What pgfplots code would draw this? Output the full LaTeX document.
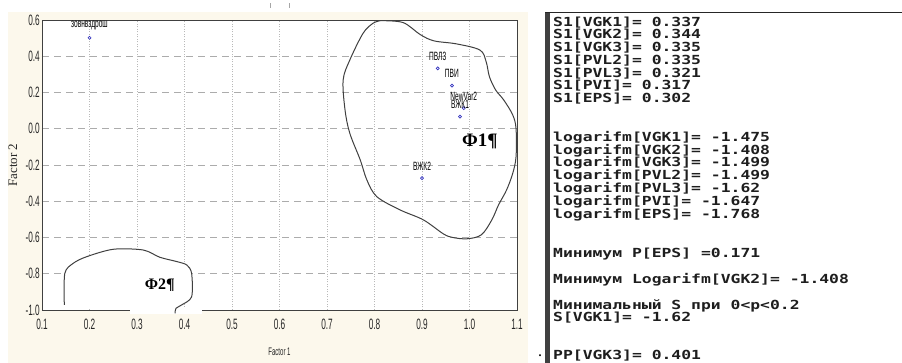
\documentclass[border=0pt]{standalone}
\usepackage{fontspec}
\setmainfont{Liberation Serif}
\newfontfamily\narrow[FakeStretch=0.55]{Liberation Sans}
\newfontfamily\mono[FakeStretch=1.31]{DejaVu Sans Mono}
\usepackage{pgfplots}
\pgfplotsset{compat=1.18}
\definecolor{cream}{HTML}{FCF8EC}
\definecolor{ptblue}{HTML}{3535C0}
\definecolor{axisgray}{HTML}{404040}
\definecolor{consoletext}{HTML}{1E1E1E}
\newcommand{\cons}{\mono\bfseries\fontsize{12.5}{12.5}\selectfont\color{consoletext}}
\begin{document}
\begin{tikzpicture}
\useasboundingbox (0,0) rectangle (902pt,363pt);
\fill[white] (0,0) rectangle (902pt,363pt);
\fill[cream] (8pt,0) rectangle (528pt,351pt);
\draw[gray!70, line width=0.6pt] (270pt,355pt) -- (270pt,360pt);
\draw[gray!70, line width=0.6pt] (289pt,355pt) -- (289pt,360pt);
% console panel
\fill[axisgray] (545pt,0) rectangle (550pt,351pt);
\fill[black!85] (545pt,349.5pt) rectangle (902pt,351.3pt);
\node[anchor=base west, inner sep=0pt, font=\cons] at (553pt,336.7pt) {S1[VGK1]= 0.337};
\node[anchor=base west, inner sep=0pt, font=\cons] at (553pt,324.0pt) {S1[VGK2]= 0.344};
\node[anchor=base west, inner sep=0pt, font=\cons] at (553pt,311.2pt) {S1[VGK3]= 0.335};
\node[anchor=base west, inner sep=0pt, font=\cons] at (553pt,298.5pt) {S1[PVL2]= 0.335};
\node[anchor=base west, inner sep=0pt, font=\cons] at (553pt,285.7pt) {S1[PVL3]= 0.321};
\node[anchor=base west, inner sep=0pt, font=\cons] at (553pt,273.0pt) {S1[PVI]= 0.317};
\node[anchor=base west, inner sep=0pt, font=\cons] at (553pt,260.2pt) {S1[EPS]= 0.302};
\node[anchor=base west, inner sep=0pt, font=\cons] at (553pt,221.7pt) {logarifm[VGK1]= -1.475};
\node[anchor=base west, inner sep=0pt, font=\cons] at (553pt,208.9pt) {logarifm[VGK2]= -1.408};
\node[anchor=base west, inner sep=0pt, font=\cons] at (553pt,196.1pt) {logarifm[VGK3]= -1.499};
\node[anchor=base west, inner sep=0pt, font=\cons] at (553pt,183.3pt) {logarifm[PVL2]= -1.499};
\node[anchor=base west, inner sep=0pt, font=\cons] at (553pt,170.5pt) {logarifm[PVL3]= -1.62};
\node[anchor=base west, inner sep=0pt, font=\cons] at (553pt,157.7pt) {logarifm[PVI]= -1.647};
\node[anchor=base west, inner sep=0pt, font=\cons] at (553pt,144.9pt) {logarifm[EPS]= -1.768};
\node[anchor=base west, inner sep=0pt, font=\cons] at (553pt,105.1pt) {Минимум P[EPS] =0.171};
\node[anchor=base west, inner sep=0pt, font=\cons] at (553pt,79.1pt) {Минимум Logarifm[VGK2]= -1.408};
\node[anchor=base west, inner sep=0pt, font=\cons] at (553pt,53.4pt) {Минимальный S при 0<p<0.2};
\node[anchor=base west, inner sep=0pt, font=\cons] at (553pt,41.1pt) {S[VGK1]= -1.62};
\node[anchor=base west, inner sep=0pt, font=\cons] at (553pt,3.4pt) {PP[VGK3]= 0.401};
\node[anchor=base, inner sep=0pt, font=\bfseries\fontsize{12}{12}\selectfont] at (540pt,6pt) {.};
% chart
\begin{axis}[
  at={(42pt,53pt)}, anchor=south west,
  scale only axis, width=475pt, height=290pt,
  xmin=0.1, xmax=1.1, ymin=-1, ymax=0.6,
  clip=false,
  axis background/.style={fill=white},
  xtick={0.1,0.2,0.3,0.4,0.5,0.6,0.7,0.8,0.9,1.0,1.1},
  xticklabels={0.1,0.2,0.3,0.4,0.5,0.6,0.7,0.8,0.9,1.0,1.1},
  ytick={-1,-0.8,-0.6,-0.4,-0.2,0,0.2,0.4,0.6},
  yticklabels={-1.0,-0.8,-0.6,-0.4,-0.2,0.0,0.2,0.4,0.6},
  grid=major,
  x grid style={dash pattern=on 1pt off 1.5pt, color=gray!55, line width=0.5pt},
  y grid style={dash pattern=on 7pt off 5pt, color=gray!65, line width=0.6pt},
  axis line style={color=axisgray, line width=0.9pt},
  major tick length=0pt,
  tick label style={font=\narrow\fontsize{15}{15}\selectfont, color=black!85},
  xticklabel style={inner sep=0pt, yshift=-9pt},
  yticklabel style={inner sep=0pt, xshift=-2pt},
]
% Phi2 white interior
\addplot[draw=none, fill=white, smooth, tension=0.5] coordinates {
 (0.147,-0.99) (0.147,-0.972) (0.148,-0.798) (0.166,-0.742) (0.194,-0.706)
 (0.25,-0.665) (0.313,-0.669) (0.348,-0.709) (0.384,-0.733) (0.405,-0.752)
 (0.415,-0.798) (0.415,-0.927) (0.394,-0.972) (0.382,-0.99)
} -- cycle;
\fill[white] (axis cs:0.285,-1.022) rectangle (axis cs:0.436,-0.985);
% Phi2 outline
\addplot[color=axisgray, line width=1pt, smooth, tension=0.5] coordinates {
 (0.147,-0.972) (0.148,-0.798) (0.166,-0.742) (0.194,-0.706)
 (0.25,-0.665) (0.313,-0.669) (0.348,-0.709) (0.384,-0.733) (0.405,-0.752)
 (0.415,-0.798) (0.415,-0.927) (0.394,-0.972) (0.382,-0.991) (0.380,-1.018)
};
% Phi1 outline
\addplot[color=axisgray, line width=1pt, smooth, tension=0.55] coordinates {
 (0.812,0.596) (0.860,0.586) (0.896,0.52) (0.925,0.485) (0.973,0.468)
 (1.022,0.434) (1.035,0.37) (1.042,0.287) (1.055,0.214) (1.072,0.159)
 (1.091,0.076) (1.098,0.0) (1.098,-0.154) (1.091,-0.246) (1.078,-0.338)
 (1.061,-0.421) (1.047,-0.503) (1.025,-0.585) (0.995,-0.607) (0.965,-0.6)
 (0.945,-0.58) (0.903,-0.503) (0.854,-0.448) (0.805,-0.375) (0.784,-0.283)
 (0.77,-0.172) (0.748,-0.025) (0.738,0.103) (0.734,0.269) (0.748,0.379)
 (0.776,0.527) (0.797,0.582) (0.812,0.596)
};
% data points
\addplot[only marks, mark=o, mark size=1.5pt, color=ptblue, line width=0.7pt,
  nodes near coords, point meta=explicit symbolic,
  nodes near coords align={anchor=center},
  every node near coord/.append style={yshift=12pt, text=black, inner sep=0pt,
     font=\narrow\fontsize{12}{12}\selectfont}]
coordinates {
 (0.2,0.502)[зовнвздрош]
 (0.933,0.333)[ПВЛ3]
 (0.963,0.238)[ПВИ]
 (0.988,0.114)[NewVar2]
 (0.98,0.067)[ВЖК1]
 (0.9,-0.273)[ВЖК2]
};
\node[font=\bfseries\fontsize{19}{19}\selectfont] at (axis cs:1.022,-0.068) {Φ1¶};
\node[font=\bfseries\fontsize{16}{16}\selectfont] at (axis cs:0.348,-0.862) {Φ2¶};
\node[rotate=90, font=\fontsize{13}{13}\selectfont, text=black!85] at ([xshift=-29pt]rel axis cs:0,0.5) {Factor 2};
\node[font=\narrow\fontsize{11}{11}\selectfont, text=black!85] at ([yshift=-42pt]rel axis cs:0.5,0) {Factor 1};
\end{axis}
\end{tikzpicture}
\end{document}
